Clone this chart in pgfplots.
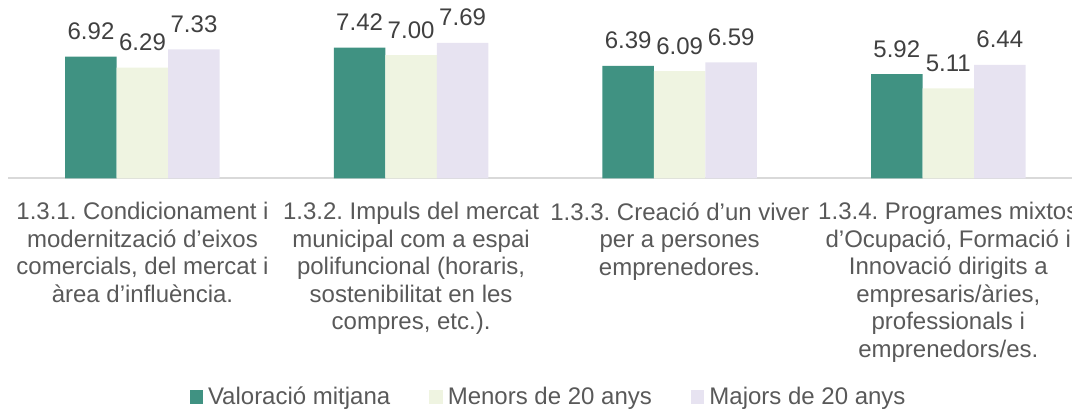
\documentclass[border=0pt]{standalone}
\usepackage{fontspec}
\setmainfont{Liberation Sans}
\usepackage{pgfplots}
\pgfplotsset{compat=1.18}
\definecolor{teal1}{HTML}{409282}
\definecolor{ylw}{HTML}{EFF4E1}
\definecolor{lav}{HTML}{E7E3F1}
\definecolor{lbl}{HTML}{595959}
\definecolor{num}{HTML}{404040}
\definecolor{axl}{HTML}{D9D9D9}
\frenchspacing
\begin{document}
\begin{tikzpicture}
\path[use as bounding box] (0,0) rectangle (536pt,206pt);
\begin{axis}[
  at={(4.1pt,116.85pt)}, anchor=south west,
  scale only axis, width=537.2pt, height=88pt,
  ymin=0, ymax=10, xmin=-0.5, xmax=3.5,
  ybar=0pt, bar width=25.75pt,
  axis x line=bottom, axis y line=none,
  axis line style={-, draw=axl, line width=0.8pt},
  xtick={0,1,2,3}, major tick length=0pt,
  xticklabels={
    {1.3.1. Condicionament i\\modernització d’eixos\\comercials, del mercat i\\àrea d’influència.},
    {1.3.2. Impuls del mercat\\municipal com a espai\\polifuncional (horaris,\\sostenibilitat en les\\compres, etc.).},
    {1.3.3. Creació d’un viver\\per a persones\\emprenedores.},
    {1.3.4. Programes mixtos\\d’Ocupació, Formació i\\Innovació dirigits a\\empresaris/àries,\\professionals i\\emprenedors/es.}},
  xticklabel style={align=center, text=lbl, font=\fontsize{12}{13.75}\selectfont, anchor=north, yshift=-8.5pt},
  nodes near coords={\pgfmathprintnumber[fixed,fixed zerofill,precision=2,assume math mode=true]{\pgfplotspointmeta}},
  nodes near coords style={font=\fontsize{12}{14}\selectfont, text=num, anchor=base, yshift=8.5pt},
  legend columns=3,
  legend image code/.code={\draw[#1,draw=none] (0pt,-3.375pt) rectangle (6.75pt,3.375pt);},
  legend style={draw=none, fill=none, at={(rel axis cs:0.5043,-1.2426)}, anchor=center,
    font=\fontsize{12}{14}\selectfont, text=lbl,
    nodes={inner xsep=2.5pt},
    /tikz/every even column/.append style={column sep=17pt}},
]
\addplot[fill=teal1, draw=none] coordinates {(0,6.92) (1,7.42) (2,6.39) (3,5.92)};
\addplot[fill=ylw, draw=none] coordinates {(0,6.29) (1,7.00) (2,6.09) (3,5.11)};
\addplot[fill=lav, draw=none] coordinates {(0,7.33) (1,7.69) (2,6.59) (3,6.44)};
\legend{Valoració mitjana, Menors de 20 anys, Majors de 20 anys}
\end{axis}
\end{tikzpicture}
\end{document}
